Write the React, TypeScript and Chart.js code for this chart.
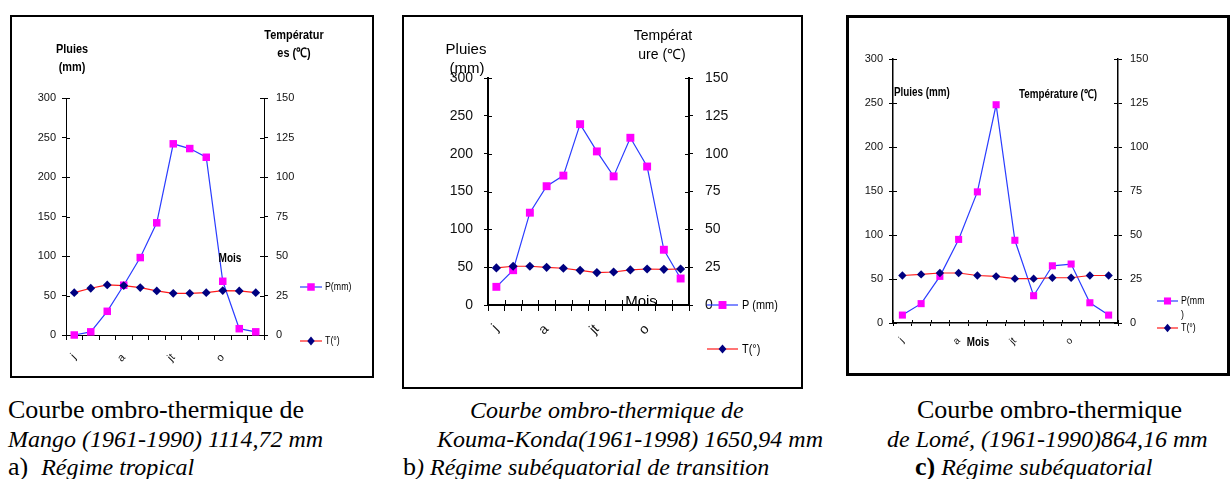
import React, { useEffect, useRef } from "react";
import { Chart, registerables } from "chart.js";

Chart.register(...registerables);

// ---------- data ----------
const MONTHS = ["j", "f", "m", "a", "m", "j", "jt", "a", "s", "o", "n", "d"];
const SHOWN_MONTHS = [0, 3, 6, 9];

const MANGO_RAIN = [0, 4, 30, 63, 98, 142, 242, 236, 225, 68, 8, 4];
const MANGO_TEMP = [26.8, 29.6, 31.7, 31.3, 30.0, 27.9, 26.4, 26.4, 26.8, 28.1, 27.9, 26.8];

const KOUMA_RAIN = [24, 46, 122, 157, 171, 239, 203, 170, 221, 183, 73, 35];
const KOUMA_TEMP = [24.5, 25.6, 25.6, 24.9, 24.3, 22.9, 21.4, 21.8, 23.2, 23.8, 23.6, 23.8];

const LOME_RAIN = [9, 22, 53, 95, 149, 248, 94, 31, 65, 67, 23, 9];
const LOME_TEMP = [27.0, 27.6, 28.4, 28.4, 27.0, 26.5, 25.2, 25.2, 25.7, 25.7, 27.0, 27.0];

const RAIN_MAX = 300;
const RAIN_STEP = 50;
const TEMP_MAX = 150;
const TEMP_STEP = 25;

// ---------- styles ----------
const ARIAL = "'Liberation Sans', Arial, sans-serif";
const SERIF = "'Liberation Serif', 'Times New Roman', serif";

const RAIN_LINE = "#2a3cff";
const RAIN_MARK = "#ff00ff";
const TEMP_LINE = "#ff1a1a";
const TEMP_MARK = "#000080";

type Txt = { t: string; x: number; y: number; font: string; align?: CanvasTextAlign; sx?: number };
type Legend = { x1: number; x2: number; yP: number; yT: number; tx: number; font: string; sx: number; pLines: string[]; tLabel: string; lineGap: number };

function drawText(ctx: CanvasRenderingContext2D, t: string, x: number, y: number, font: string, align: CanvasTextAlign, sx: number) {
  ctx.save();
  ctx.font = font;
  ctx.textAlign = align;
  ctx.textBaseline = "middle";
  ctx.translate(x, y);
  ctx.scale(sx, 1);
  ctx.fillText(t, 0, 0);
  ctx.restore();
}

const overlayPlugin = {
  id: "overlay",
  afterDraw(chart: any, _args: any, opts: any) {
    const ctx: CanvasRenderingContext2D = chart.ctx;
    const ca = chart.chartArea;
    const { ox, oy, texts, legend, xUp, sq, dia } = opts;
    ctx.save();
    ctx.strokeStyle = "#000";
    ctx.lineWidth = 1;
    // inward half of the crossing tick marks
    const yl = chart.scales.y;
    const yr = chart.scales.y1;
    const xs = chart.scales.x;
    yl.ticks.forEach((_t: any, i: number) => {
      const py = Math.round(yl.getPixelForTick(i)) + 0.5;
      ctx.beginPath();
      ctx.moveTo(ca.left, py);
      ctx.lineTo(ca.left + 4, py);
      ctx.stroke();
    });
    yr.ticks.forEach((_t: any, i: number) => {
      const py = Math.round(yr.getPixelForTick(i)) + 0.5;
      ctx.beginPath();
      ctx.moveTo(ca.right - 4, py);
      ctx.lineTo(ca.right, py);
      ctx.stroke();
    });
    if (xUp > 0) {
      for (let i = 0; i <= MONTHS.length; i++) {
        const px = Math.round(xs.getPixelForValue(i - 0.5)) + 0.5;
        ctx.beginPath();
        ctx.moveTo(px, ca.bottom - xUp);
        ctx.lineTo(px, ca.bottom);
        ctx.stroke();
      }
    }
    // texts
    ctx.fillStyle = "#000";
    for (const t of texts as Txt[]) {
      drawText(ctx, t.t, t.x - ox, t.y - oy, t.font, t.align || "center", t.sx || 1);
    }
    // legend
    const L: Legend = legend;
    const mx = (L.x1 + L.x2) / 2 - ox;
    let y = L.yP - oy;
    ctx.strokeStyle = RAIN_LINE;
    ctx.lineWidth = 1.2;
    ctx.beginPath();
    ctx.moveTo(L.x1 - ox, y);
    ctx.lineTo(L.x2 - ox, y);
    ctx.stroke();
    ctx.fillStyle = RAIN_MARK;
    const s = sq * Math.SQRT1_2;
    ctx.fillRect(mx - s, y - s, 2 * s, 2 * s);
    ctx.fillStyle = "#000";
    L.pLines.forEach((ln, i) => drawText(ctx, ln, L.tx - ox, y + i * L.lineGap, L.font, "left", L.sx));
    y = L.yT - oy;
    ctx.strokeStyle = TEMP_LINE;
    ctx.beginPath();
    ctx.moveTo(L.x1 - ox, y);
    ctx.lineTo(L.x2 - ox, y);
    ctx.stroke();
    ctx.fillStyle = TEMP_MARK;
    ctx.beginPath();
    ctx.moveTo(mx, y - dia);
    ctx.lineTo(mx + dia * 0.85, y);
    ctx.lineTo(mx, y + dia);
    ctx.lineTo(mx - dia * 0.85, y);
    ctx.closePath();
    ctx.fill();
    ctx.fillStyle = "#000";
    drawText(ctx, L.tLabel, L.tx - ox, y, L.font, "left", L.sx);
    ctx.restore();
  },
};

type PanelProps = {
  box: { x: number; y: number; w: number; h: number; b: number };
  area: { l: number; t: number; r: number; b: number };
  rain: number[];
  temp: number[];
  tickFont: { family: string; size: number };
  xFont: { family: string; size: number };
  axisWidth: number;
  gapL: number;
  gapR: number;
  xPad: number;
  xUp: number;
  xDown: number;
  sq: number;
  dia: number;
  texts: Txt[];
  legend: Legend;
};

function Panel(p: PanelProps) {
  const ref = useRef<HTMLCanvasElement | null>(null);
  const ox = p.box.x + p.box.b;
  const oy = p.box.y + p.box.b;
  const cw = p.box.w - 2 * p.box.b;
  const ch = p.box.h - 2 * p.box.b;

  useEffect(() => {
    if (!ref.current) return;
    const tickColor = "#111";
    const chart = new Chart(ref.current, {
      type: "line",
      data: {
        labels: MONTHS,
        datasets: [
          {
            label: "P(mm)",
            data: p.rain,
            yAxisID: "y",
            borderColor: RAIN_LINE,
            borderWidth: 1.2,
            pointStyle: "rect",
            pointRadius: p.sq,
            pointBackgroundColor: RAIN_MARK,
            pointBorderColor: RAIN_MARK,
            pointBorderWidth: 0,
            order: 1,
            clip: false,
          } as any,
          {
            label: "T(°)",
            data: p.temp,
            yAxisID: "y1",
            borderColor: TEMP_LINE,
            borderWidth: 1.2,
            pointStyle: "rectRot",
            pointRadius: p.dia,
            pointBackgroundColor: TEMP_MARK,
            pointBorderColor: TEMP_MARK,
            pointBorderWidth: 0,
            order: 0,
            clip: false,
          } as any,
        ],
      },
      options: {
        responsive: false,
        animation: false,
        devicePixelRatio: 1,
        events: [],
        layout: { padding: { top: p.area.t - oy, left: 0, right: 0, bottom: 0 } },
        plugins: {
          legend: { display: false },
          tooltip: { enabled: false },
          overlay: { ox, oy, texts: p.texts, legend: p.legend, xUp: p.xUp, sq: p.sq, dia: p.dia },
        } as any,
        scales: {
          x: {
            type: "category",
            offset: true,
            grid: { offset: true, drawOnChartArea: false, drawTicks: true, tickLength: p.xDown, color: "#000", lineWidth: 1 },
            border: { display: true, color: "#000", width: p.axisWidth },
            ticks: {
              autoSkip: false,
              maxRotation: 45,
              minRotation: 45,
              padding: p.xPad,
              color: tickColor,
              font: p.xFont,
              callback: (_v: any, i: number) => (SHOWN_MONTHS.includes(i) ? MONTHS[i] : ""),
            },
            afterFit: (s: any) => {
              s.height = ch - (p.area.b - oy);
            },
          },
          y: {
            position: "left",
            min: 0,
            max: RAIN_MAX,
            grid: { drawOnChartArea: false, drawTicks: true, tickLength: 4, color: "#000", lineWidth: 1 },
            border: { display: true, color: "#000", width: p.axisWidth },
            ticks: { stepSize: RAIN_STEP, padding: p.gapL - 4, color: tickColor, font: p.tickFont },
            afterFit: (s: any) => {
              s.width = p.area.l - ox;
            },
          },
          y1: {
            position: "right",
            min: 0,
            max: TEMP_MAX,
            grid: { drawOnChartArea: false, drawTicks: true, tickLength: 4, color: "#000", lineWidth: 1 },
            border: { display: true, color: "#000", width: p.axisWidth },
            ticks: { stepSize: TEMP_STEP, padding: p.gapR - 4, color: tickColor, font: p.tickFont },
            afterFit: (s: any) => {
              s.width = cw - (p.area.r - ox);
            },
          },
        },
      } as any,
      plugins: [overlayPlugin],
    });
    return () => chart.destroy();
  }, []);

  return (
    <div
      style={{
        position: "absolute",
        left: p.box.x,
        top: p.box.y,
        width: cw,
        height: ch,
        border: `${p.box.b}px solid #000`,
        background: "#fff",
      }}
    >
      <canvas ref={ref} width={cw} height={ch} style={{ display: "block", width: cw, height: ch }} />
    </div>
  );
}

const bd = (s: number) => `bold ${s}px ${ARIAL}`;
const ar = (s: number) => `${s}px ${ARIAL}`;
const NX = 0.84; // horizontal squeeze imitating the narrow face of the original

type Part = { t: string; i?: boolean; b?: boolean; size?: number };
type Line = { left: number; top: number; parts: Part[] };

const UP = 26;
const IT = 24;

const CAPTIONS: Line[] = [
  { left: 8, top: 396, parts: [{ t: "Courbe ombro-thermique de", size: UP }] },
  { left: 8, top: 425, parts: [{ t: "Mango (1961-1990) 1114,72 mm", i: true, size: IT }] },
  { left: 8, top: 453, parts: [{ t: "a)\u00a0 ", size: UP }, { t: "Régime tropical", i: true, size: IT }] },
  { left: 470, top: 396, parts: [{ t: "Courbe ombro-thermique de", i: true, size: IT }] },
  { left: 437, top: 425, parts: [{ t: "Kouma-Konda(1961-1998) 1650,94 mm", i: true, size: IT }] },
  { left: 403, top: 453, parts: [{ t: "b", size: UP }, { t: ") Régime subéquatorial de transition", i: true, size: IT }] },
  { left: 917, top: 396, parts: [{ t: "Courbe ombro-thermique", size: UP }] },
  { left: 887, top: 425, parts: [{ t: "de Lomé, (1961-1990)864,16 mm", i: true, size: IT }] },
  { left: 915, top: 453, parts: [{ t: "c)", b: true, size: UP }, { t: " Régime subéquatorial", i: true, size: IT }] },
];

export default function App() {
  return (
    <div style={{ position: "absolute", left: 0, top: 0, width: 1231, height: 479, background: "#fff", overflow: "hidden" }}>
      <Panel
        box={{ x: 10, y: 15, w: 364, h: 363, b: 2 }}
        area={{ l: 66, t: 98, r: 264, b: 335 }}
        rain={MANGO_RAIN}
        temp={MANGO_TEMP}
        tickFont={{ family: ARIAL, size: 11 }}
        xFont={{ family: ARIAL, size: 11 }}
        axisWidth={1}
        gapL={10}
        gapR={12}
        xPad={11}
        xUp={0}
        xDown={5}
        sq={5.3}
        dia={4.4}
        texts={[
          { t: "Pluies", x: 72, y: 49, font: bd(13), sx: NX },
          { t: "(mm)", x: 72, y: 67, font: bd(13), sx: NX },
          { t: "Températur", x: 294, y: 35, font: bd(13), sx: NX },
          { t: "es (℃)", x: 294, y: 53, font: bd(13), sx: NX },
          { t: "Mois", x: 230, y: 259, font: bd(12), sx: NX },
        ]}
        legend={{ x1: 300, x2: 322, yP: 287, yT: 341, tx: 325, font: ar(11), sx: 0.8, pLines: ["P(mm)"], tLabel: "T(°)", lineGap: 13 }}
      />
      <Panel
        box={{ x: 402, y: 15, w: 401, h: 374, b: 2 }}
        area={{ l: 488, t: 78, r: 689, b: 305 }}
        rain={KOUMA_RAIN}
        temp={KOUMA_TEMP}
        tickFont={{ family: ARIAL, size: 14 }}
        xFont={{ family: ARIAL, size: 14 }}
        axisWidth={2}
        gapL={15}
        gapR={16}
        xPad={10}
        xUp={5}
        xDown={6}
        sq={5.6}
        dia={4.6}
        texts={[
          { t: "Pluies", x: 466, y: 50, font: ar(15) },
          { t: "(mm)", x: 467, y: 69, font: ar(15) },
          { t: "Températ", x: 663, y: 36, font: ar(14) },
          { t: "ure (℃)", x: 662, y: 55, font: ar(14) },
          { t: "Mois", x: 641, y: 302, font: ar(15) },
        ]}
        legend={{ x1: 707, x2: 738, yP: 305, yT: 349, tx: 742, font: ar(13), sx: 0.84, pLines: ["P (mm)"], tLabel: "T(°)", lineGap: 14 }}
      />
      <Panel
        box={{ x: 846, y: 15, w: 384, h: 361, b: 3 }}
        area={{ l: 893, t: 59, r: 1118, b: 323 }}
        rain={LOME_RAIN}
        temp={LOME_TEMP}
        tickFont={{ family: ARIAL, size: 11 }}
        xFont={{ family: ARIAL, size: 10 }}
        axisWidth={1.5}
        gapL={10}
        gapR={12}
        xPad={9}
        xUp={3}
        xDown={3}
        sq={5}
        dia={4.2}
        texts={[
          { t: "Pluies (mm)", x: 894, y: 93, font: bd(12), align: "left", sx: 0.82 },
          { t: "Température (℃)", x: 1058, y: 95, font: bd(12), sx: 0.82 },
          { t: "Mois", x: 978, y: 343, font: bd(12), sx: 0.82 },
        ]}
        legend={{ x1: 1157, x2: 1178, yP: 301, yT: 328, tx: 1181, font: ar(11), sx: 0.8, pLines: ["P(mm", ")"], tLabel: "T(°)", lineGap: 14 }}
      />
      {CAPTIONS.map((ln, k) => (
        <div
          key={k}
          style={{ position: "absolute", left: ln.left, top: ln.top, lineHeight: "28px", whiteSpace: "pre", fontFamily: SERIF, color: "#000" }}
        >
          {ln.parts.map((pt, j) => (
            <span key={j} style={{ fontStyle: pt.i ? "italic" : "normal", fontWeight: pt.b ? "bold" : "normal", fontSize: pt.size }}>
              {pt.t}
            </span>
          ))}
        </div>
      ))}
    </div>
  );
}
